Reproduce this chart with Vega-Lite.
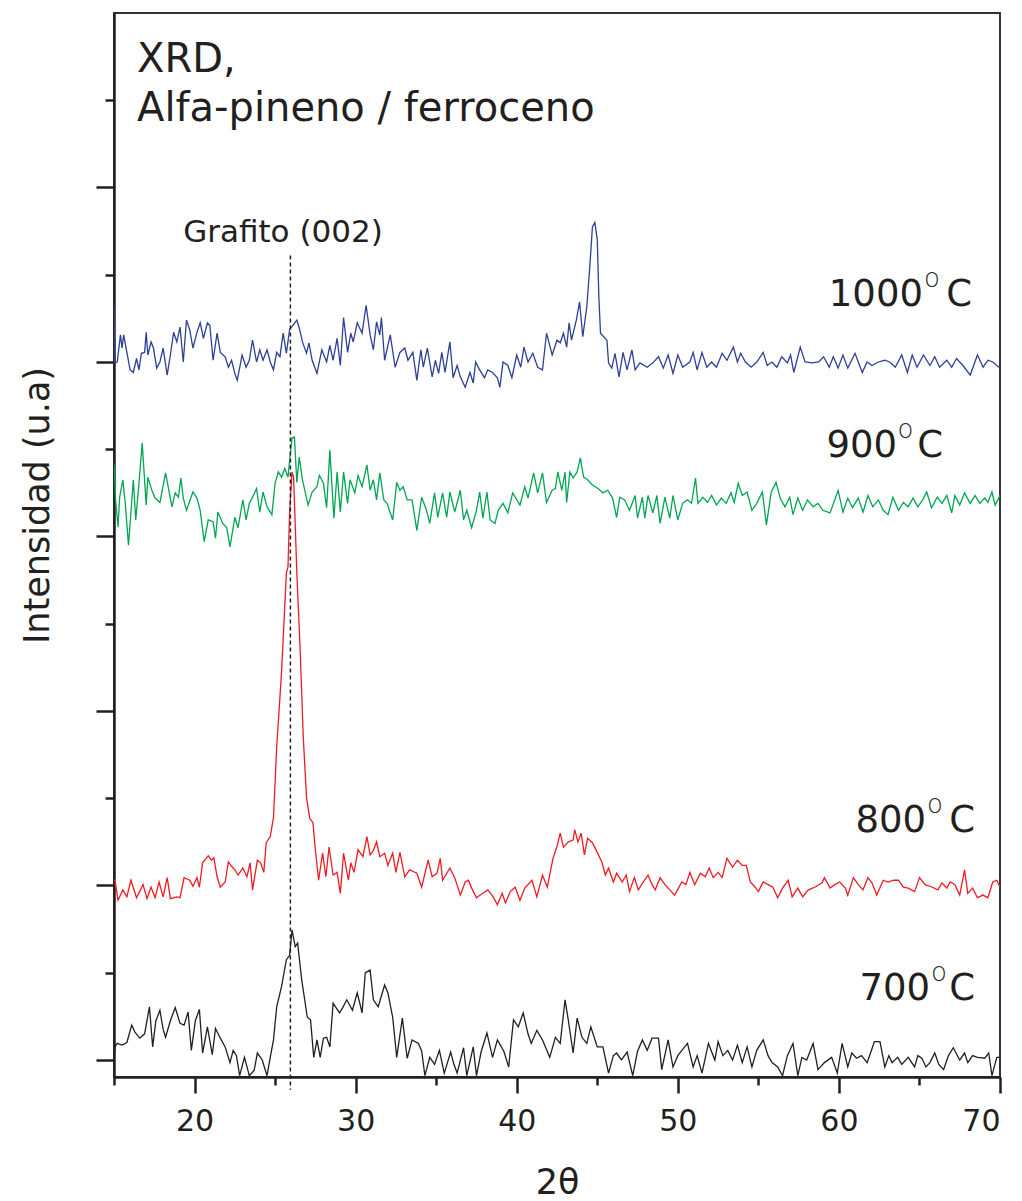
{
"$schema": "https://vega.github.io/schema/vega-lite/v6.json",
"width": 886, "height": 1064,
"autosize": "none",
"padding": {"left": 114, "top": 13, "right": 22, "bottom": 124},
"background": "white",
"config": {"view": {"stroke": "#333333", "strokeWidth": 2}, "font": "DejaVu Sans"},
"datasets": {
"xrd": [
{"s":"700","x":15.0,"y":2},{"s":"700","x":15.06,"y":15},{"s":"700","x":15.2,"y":19},{"s":"700","x":15.5,"y":17},{"s":"700","x":15.8,"y":20},{"s":"700","x":16.1,"y":40},{"s":"700","x":16.3,"y":32},{"s":"700","x":16.6,"y":25},{"s":"700","x":16.9,"y":30},{"s":"700","x":17.2,"y":61},{"s":"700","x":17.4,"y":15},{"s":"700","x":17.6,"y":45},{"s":"700","x":17.85,"y":57},{"s":"700","x":18.05,"y":35},{"s":"700","x":18.2,"y":26},{"s":"700","x":18.5,"y":45},{"s":"700","x":18.8,"y":60},{"s":"700","x":19.1,"y":42},{"s":"700","x":19.35,"y":40},{"s":"700","x":19.6,"y":55},{"s":"700","x":19.8,"y":11},{"s":"700","x":20.05,"y":45},{"s":"700","x":20.3,"y":58},{"s":"700","x":20.5,"y":8},{"s":"700","x":20.8,"y":38},{"s":"700","x":21.1,"y":6},{"s":"700","x":21.3,"y":36},{"s":"700","x":21.6,"y":25},{"s":"700","x":21.9,"y":15},{"s":"700","x":22.2,"y":-3},{"s":"700","x":22.4,"y":11},{"s":"700","x":22.6,"y":5},{"s":"700","x":22.8,"y":-18},{"s":"700","x":23.1,"y":3},{"s":"700","x":23.4,"y":-18},{"s":"700","x":23.7,"y":-12},{"s":"700","x":23.9,"y":8},{"s":"700","x":24.2,"y":0},{"s":"700","x":24.5,"y":-18},{"s":"700","x":24.7,"y":3},{"s":"700","x":24.9,"y":23},{"s":"700","x":25.1,"y":61},{"s":"700","x":25.4,"y":84},{"s":"700","x":25.7,"y":115},{"s":"700","x":25.9,"y":120},{"s":"700","x":26.05,"y":149},{"s":"700","x":26.25,"y":130},{"s":"700","x":26.4,"y":134},{"s":"700","x":26.65,"y":92},{"s":"700","x":27.0,"y":49},{"s":"700","x":27.2,"y":46},{"s":"700","x":27.4,"y":3},{"s":"700","x":27.6,"y":23},{"s":"700","x":27.8,"y":3},{"s":"700","x":28.0,"y":25},{"s":"700","x":28.2,"y":26},{"s":"700","x":28.4,"y":15},{"s":"700","x":28.6,"y":65},{"s":"700","x":29.0,"y":54},{"s":"700","x":29.2,"y":60},{"s":"700","x":29.45,"y":69},{"s":"700","x":29.8,"y":57},{"s":"700","x":30.1,"y":77},{"s":"700","x":30.4,"y":54},{"s":"700","x":30.6,"y":100},{"s":"700","x":30.9,"y":103},{"s":"700","x":31.1,"y":69},{"s":"700","x":31.4,"y":61},{"s":"700","x":31.8,"y":86},{"s":"700","x":32.0,"y":77},{"s":"700","x":32.3,"y":49},{"s":"700","x":32.55,"y":3},{"s":"700","x":32.9,"y":48},{"s":"700","x":33.2,"y":2},{"s":"700","x":33.5,"y":23},{"s":"700","x":33.9,"y":19},{"s":"700","x":34.1,"y":10},{"s":"700","x":34.3,"y":-18},{"s":"700","x":34.6,"y":3},{"s":"700","x":34.9,"y":-5},{"s":"700","x":35.2,"y":11},{"s":"700","x":35.5,"y":-15},{"s":"700","x":35.9,"y":9},{"s":"700","x":36.1,"y":-5},{"s":"700","x":36.3,"y":-15},{"s":"700","x":36.7,"y":14},{"s":"700","x":36.9,"y":-18},{"s":"700","x":37.3,"y":15},{"s":"700","x":37.5,"y":-18},{"s":"700","x":37.8,"y":10},{"s":"700","x":38.15,"y":31},{"s":"700","x":38.5,"y":3},{"s":"700","x":38.8,"y":23},{"s":"700","x":39.2,"y":10},{"s":"700","x":39.5,"y":-8},{"s":"700","x":39.8,"y":46},{"s":"700","x":40.1,"y":38},{"s":"700","x":40.4,"y":54},{"s":"700","x":40.7,"y":30},{"s":"700","x":40.9,"y":19},{"s":"700","x":41.25,"y":34},{"s":"700","x":41.6,"y":23},{"s":"700","x":42.05,"y":3},{"s":"700","x":42.4,"y":26},{"s":"700","x":42.7,"y":19},{"s":"700","x":43.0,"y":69},{"s":"700","x":43.2,"y":46},{"s":"700","x":43.5,"y":8},{"s":"700","x":43.75,"y":48},{"s":"700","x":44.05,"y":26},{"s":"700","x":44.35,"y":19},{"s":"700","x":44.6,"y":38},{"s":"700","x":45.0,"y":15},{"s":"700","x":45.35,"y":15},{"s":"700","x":45.7,"y":-15},{"s":"700","x":46.0,"y":5},{"s":"700","x":46.2,"y":8},{"s":"700","x":46.5,"y":0},{"s":"700","x":46.85,"y":9},{"s":"700","x":47.2,"y":-18},{"s":"700","x":47.5,"y":10},{"s":"700","x":47.8,"y":23},{"s":"700","x":48.1,"y":11},{"s":"700","x":48.4,"y":25},{"s":"700","x":48.8,"y":25},{"s":"700","x":49.0,"y":-11},{"s":"700","x":49.4,"y":23},{"s":"700","x":49.7,"y":-8},{"s":"700","x":50.0,"y":5},{"s":"700","x":50.25,"y":11},{"s":"700","x":50.6,"y":19},{"s":"700","x":50.95,"y":-8},{"s":"700","x":51.2,"y":5},{"s":"700","x":51.5,"y":-15},{"s":"700","x":51.9,"y":19},{"s":"700","x":52.3,"y":0},{"s":"700","x":52.5,"y":21},{"s":"700","x":52.8,"y":5},{"s":"700","x":53.1,"y":11},{"s":"700","x":53.4,"y":0},{"s":"700","x":53.7,"y":17},{"s":"700","x":54.0,"y":-3},{"s":"700","x":54.3,"y":15},{"s":"700","x":54.6,"y":-8},{"s":"700","x":54.9,"y":11},{"s":"700","x":55.3,"y":23},{"s":"700","x":55.6,"y":5},{"s":"700","x":55.85,"y":-3},{"s":"700","x":56.2,"y":-8},{"s":"700","x":56.5,"y":-18},{"s":"700","x":56.8,"y":5},{"s":"700","x":57.15,"y":19},{"s":"700","x":57.45,"y":-18},{"s":"700","x":57.7,"y":3},{"s":"700","x":58.0,"y":0},{"s":"700","x":58.4,"y":19},{"s":"700","x":58.7,"y":-11},{"s":"700","x":59.1,"y":-3},{"s":"700","x":59.55,"y":3},{"s":"700","x":59.9,"y":-15},{"s":"700","x":60.2,"y":19},{"s":"700","x":60.55,"y":-8},{"s":"700","x":60.8,"y":8},{"s":"700","x":61.1,"y":2},{"s":"700","x":61.4,"y":5},{"s":"700","x":61.75,"y":-3},{"s":"700","x":62.0,"y":10},{"s":"700","x":62.2,"y":21},{"s":"700","x":62.55,"y":21},{"s":"700","x":62.85,"y":-8},{"s":"700","x":63.1,"y":5},{"s":"700","x":63.3,"y":-3},{"s":"700","x":63.65,"y":3},{"s":"700","x":63.9,"y":-5},{"s":"700","x":64.3,"y":3},{"s":"700","x":64.7,"y":-8},{"s":"700","x":64.9,"y":5},{"s":"700","x":65.15,"y":2},{"s":"700","x":65.4,"y":-8},{"s":"700","x":65.65,"y":-3},{"s":"700","x":65.95,"y":8},{"s":"700","x":66.2,"y":-5},{"s":"700","x":66.5,"y":-11},{"s":"700","x":66.8,"y":5},{"s":"700","x":67.1,"y":14},{"s":"700","x":67.5,"y":0},{"s":"700","x":67.8,"y":8},{"s":"700","x":68.0,"y":-3},{"s":"700","x":68.3,"y":5},{"s":"700","x":68.6,"y":3},{"s":"700","x":69.05,"y":2},{"s":"700","x":69.3,"y":8},{"s":"700","x":69.5,"y":-18},{"s":"700","x":69.8,"y":3},{"s":"700","x":70.0,"y":3},
{"s":"800","x":15.0,"y":206},{"s":"800","x":15.06,"y":206},{"s":"800","x":15.25,"y":183},{"s":"800","x":15.55,"y":195},{"s":"800","x":15.8,"y":187},{"s":"800","x":16.05,"y":206},{"s":"800","x":16.4,"y":186},{"s":"800","x":16.8,"y":201},{"s":"800","x":17.05,"y":185},{"s":"800","x":17.3,"y":198},{"s":"800","x":17.55,"y":186},{"s":"800","x":17.8,"y":204},{"s":"800","x":18.05,"y":187},{"s":"800","x":18.3,"y":209},{"s":"800","x":18.5,"y":185},{"s":"800","x":18.9,"y":187},{"s":"800","x":19.1,"y":186},{"s":"800","x":19.35,"y":209},{"s":"800","x":19.7,"y":206},{"s":"800","x":19.9,"y":199},{"s":"800","x":20.15,"y":209},{"s":"800","x":20.3,"y":198},{"s":"800","x":20.5,"y":226},{"s":"800","x":20.85,"y":234},{"s":"800","x":21.05,"y":229},{"s":"800","x":21.2,"y":232},{"s":"800","x":21.4,"y":210},{"s":"800","x":21.6,"y":198},{"s":"800","x":21.9,"y":204},{"s":"800","x":22.1,"y":227},{"s":"800","x":22.3,"y":222},{"s":"800","x":22.5,"y":218},{"s":"800","x":22.7,"y":212},{"s":"800","x":23.0,"y":220},{"s":"800","x":23.25,"y":210},{"s":"800","x":23.45,"y":226},{"s":"800","x":23.6,"y":195},{"s":"800","x":23.9,"y":229},{"s":"800","x":24.1,"y":226},{"s":"800","x":24.3,"y":215},{"s":"800","x":24.45,"y":249},{"s":"800","x":24.7,"y":256},{"s":"800","x":24.9,"y":278},{"s":"800","x":25.1,"y":359},{"s":"800","x":25.4,"y":444},{"s":"800","x":25.7,"y":558},{"s":"800","x":25.8,"y":565},{"s":"800","x":25.9,"y":627},{"s":"800","x":26.05,"y":674},{"s":"800","x":26.15,"y":668},{"s":"800","x":26.35,"y":558},{"s":"800","x":26.55,"y":473},{"s":"800","x":26.75,"y":370},{"s":"800","x":26.95,"y":301},{"s":"800","x":27.15,"y":277},{"s":"800","x":27.35,"y":272},{"s":"800","x":27.5,"y":241},{"s":"800","x":27.7,"y":206},{"s":"800","x":27.95,"y":237},{"s":"800","x":28.15,"y":210},{"s":"800","x":28.35,"y":244},{"s":"800","x":28.6,"y":212},{"s":"800","x":28.85,"y":215},{"s":"800","x":29.05,"y":191},{"s":"800","x":29.25,"y":237},{"s":"800","x":29.55,"y":206},{"s":"800","x":29.7,"y":226},{"s":"800","x":29.9,"y":215},{"s":"800","x":30.15,"y":241},{"s":"800","x":30.45,"y":233},{"s":"800","x":30.7,"y":256},{"s":"800","x":30.9,"y":235},{"s":"800","x":31.1,"y":240},{"s":"800","x":31.3,"y":250},{"s":"800","x":31.5,"y":233},{"s":"800","x":31.8,"y":237},{"s":"800","x":32.0,"y":223},{"s":"800","x":32.3,"y":237},{"s":"800","x":32.5,"y":215},{"s":"800","x":32.75,"y":238},{"s":"800","x":33.05,"y":210},{"s":"800","x":33.35,"y":218},{"s":"800","x":33.8,"y":214},{"s":"800","x":34.1,"y":198},{"s":"800","x":34.5,"y":229},{"s":"800","x":34.75,"y":210},{"s":"800","x":35.05,"y":214},{"s":"800","x":35.25,"y":231},{"s":"800","x":35.4,"y":206},{"s":"800","x":35.85,"y":220},{"s":"800","x":36.15,"y":209},{"s":"800","x":36.5,"y":189},{"s":"800","x":36.8,"y":204},{"s":"800","x":37.0,"y":206},{"s":"800","x":37.2,"y":197},{"s":"800","x":37.5,"y":186},{"s":"800","x":37.8,"y":190},{"s":"800","x":38.2,"y":195},{"s":"800","x":38.5,"y":188},{"s":"800","x":38.8,"y":178},{"s":"800","x":39.1,"y":191},{"s":"800","x":39.3,"y":180},{"s":"800","x":39.6,"y":193},{"s":"800","x":39.9,"y":198},{"s":"800","x":40.2,"y":183},{"s":"800","x":40.5,"y":197},{"s":"800","x":40.95,"y":206},{"s":"800","x":41.25,"y":187},{"s":"800","x":41.6,"y":212},{"s":"800","x":41.9,"y":198},{"s":"800","x":42.25,"y":231},{"s":"800","x":42.5,"y":245},{"s":"800","x":42.7,"y":260},{"s":"800","x":42.9,"y":244},{"s":"800","x":43.2,"y":250},{"s":"800","x":43.5,"y":252},{"s":"800","x":43.6,"y":264},{"s":"800","x":43.8,"y":250},{"s":"800","x":44.0,"y":260},{"s":"800","x":44.2,"y":235},{"s":"800","x":44.4,"y":254},{"s":"800","x":44.7,"y":249},{"s":"800","x":45.0,"y":238},{"s":"800","x":45.3,"y":226},{"s":"800","x":45.5,"y":212},{"s":"800","x":45.7,"y":220},{"s":"800","x":46.0,"y":204},{"s":"800","x":46.2,"y":214},{"s":"800","x":46.55,"y":204},{"s":"800","x":46.8,"y":212},{"s":"800","x":47.0,"y":193},{"s":"800","x":47.3,"y":209},{"s":"800","x":47.55,"y":195},{"s":"800","x":47.85,"y":204},{"s":"800","x":48.15,"y":212},{"s":"800","x":48.4,"y":201},{"s":"800","x":48.6,"y":195},{"s":"800","x":48.9,"y":209},{"s":"800","x":49.2,"y":201},{"s":"800","x":49.5,"y":195},{"s":"800","x":49.8,"y":189},{"s":"800","x":50.25,"y":204},{"s":"800","x":50.5,"y":201},{"s":"800","x":50.75,"y":215},{"s":"800","x":51.05,"y":201},{"s":"800","x":51.4,"y":214},{"s":"800","x":51.7,"y":210},{"s":"800","x":51.95,"y":220},{"s":"800","x":52.2,"y":209},{"s":"800","x":52.5,"y":215},{"s":"800","x":52.75,"y":209},{"s":"800","x":53.05,"y":231},{"s":"800","x":53.4,"y":221},{"s":"800","x":53.7,"y":229},{"s":"800","x":54.0,"y":223},{"s":"800","x":54.25,"y":223},{"s":"800","x":54.5,"y":204},{"s":"800","x":54.8,"y":198},{"s":"800","x":55.0,"y":193},{"s":"800","x":55.3,"y":204},{"s":"800","x":55.6,"y":201},{"s":"800","x":55.9,"y":198},{"s":"800","x":56.2,"y":186},{"s":"800","x":56.5,"y":197},{"s":"800","x":56.85,"y":206},{"s":"800","x":57.1,"y":187},{"s":"800","x":57.45,"y":197},{"s":"800","x":57.75,"y":187},{"s":"800","x":58.1,"y":195},{"s":"800","x":58.5,"y":198},{"s":"800","x":58.95,"y":203},{"s":"800","x":59.1,"y":209},{"s":"800","x":59.45,"y":197},{"s":"800","x":59.75,"y":201},{"s":"800","x":60.05,"y":204},{"s":"800","x":60.4,"y":197},{"s":"800","x":60.55,"y":189},{"s":"800","x":60.9,"y":209},{"s":"800","x":61.2,"y":201},{"s":"800","x":61.5,"y":195},{"s":"800","x":61.8,"y":209},{"s":"800","x":62.05,"y":203},{"s":"800","x":62.35,"y":189},{"s":"800","x":62.75,"y":206},{"s":"800","x":63.05,"y":204},{"s":"800","x":63.4,"y":206},{"s":"800","x":63.7,"y":206},{"s":"800","x":64.0,"y":198},{"s":"800","x":64.3,"y":197},{"s":"800","x":64.7,"y":193},{"s":"800","x":65.0,"y":209},{"s":"800","x":65.35,"y":201},{"s":"800","x":65.8,"y":198},{"s":"800","x":66.15,"y":195},{"s":"800","x":66.4,"y":203},{"s":"800","x":66.7,"y":197},{"s":"800","x":66.9,"y":204},{"s":"800","x":67.2,"y":201},{"s":"800","x":67.5,"y":189},{"s":"800","x":67.8,"y":218},{"s":"800","x":68.0,"y":191},{"s":"800","x":68.3,"y":197},{"s":"800","x":68.6,"y":186},{"s":"800","x":68.95,"y":189},{"s":"800","x":69.25,"y":186},{"s":"800","x":69.55,"y":204},{"s":"800","x":69.8,"y":206},{"s":"800","x":70.0,"y":198},
{"s":"900","x":15.0,"y":684},{"s":"900","x":15.1,"y":642},{"s":"900","x":15.25,"y":611},{"s":"900","x":15.35,"y":645},{"s":"900","x":15.55,"y":665},{"s":"900","x":15.7,"y":638},{"s":"900","x":15.9,"y":590},{"s":"900","x":16.2,"y":665},{"s":"900","x":16.35,"y":619},{"s":"900","x":16.55,"y":661},{"s":"900","x":16.75,"y":707},{"s":"900","x":17.0,"y":636},{"s":"900","x":17.1,"y":668},{"s":"900","x":17.35,"y":653},{"s":"900","x":17.55,"y":644},{"s":"900","x":17.85,"y":639},{"s":"900","x":18.2,"y":673},{"s":"900","x":18.6,"y":634},{"s":"900","x":18.8,"y":650},{"s":"900","x":19.0,"y":645},{"s":"900","x":19.15,"y":667},{"s":"900","x":19.3,"y":644},{"s":"900","x":19.5,"y":630},{"s":"900","x":19.9,"y":651},{"s":"900","x":20.15,"y":644},{"s":"900","x":20.35,"y":630},{"s":"900","x":20.6,"y":594},{"s":"900","x":20.85,"y":619},{"s":"900","x":21.15,"y":617},{"s":"900","x":21.3,"y":598},{"s":"900","x":21.45,"y":628},{"s":"900","x":21.75,"y":615},{"s":"900","x":22.0,"y":610},{"s":"900","x":22.2,"y":588},{"s":"900","x":22.5,"y":622},{"s":"900","x":22.7,"y":610},{"s":"900","x":23.0,"y":642},{"s":"900","x":23.2,"y":619},{"s":"900","x":23.4,"y":638},{"s":"900","x":23.6,"y":645},{"s":"900","x":23.85,"y":655},{"s":"900","x":24.05,"y":628},{"s":"900","x":24.25,"y":651},{"s":"900","x":24.5,"y":634},{"s":"900","x":24.8,"y":625},{"s":"900","x":25.0,"y":661},{"s":"900","x":25.2,"y":674},{"s":"900","x":25.4,"y":668},{"s":"900","x":25.6,"y":678},{"s":"900","x":25.8,"y":668},{"s":"900","x":26.05,"y":713},{"s":"900","x":26.2,"y":714},{"s":"900","x":26.35,"y":662},{"s":"900","x":26.5,"y":691},{"s":"900","x":26.7,"y":665},{"s":"900","x":27.05,"y":636},{"s":"900","x":27.3,"y":651},{"s":"900","x":27.6,"y":657},{"s":"900","x":27.75,"y":670},{"s":"900","x":28.0,"y":661},{"s":"900","x":28.2,"y":633},{"s":"900","x":28.4,"y":699},{"s":"900","x":28.65,"y":621},{"s":"900","x":28.85,"y":674},{"s":"900","x":29.05,"y":628},{"s":"900","x":29.25,"y":674},{"s":"900","x":29.5,"y":638},{"s":"900","x":29.65,"y":665},{"s":"900","x":29.95,"y":650},{"s":"900","x":30.15,"y":670},{"s":"900","x":30.4,"y":657},{"s":"900","x":30.7,"y":682},{"s":"900","x":30.9,"y":653},{"s":"900","x":31.1,"y":665},{"s":"900","x":31.3,"y":642},{"s":"900","x":31.5,"y":673},{"s":"900","x":31.75,"y":642},{"s":"900","x":31.95,"y":638},{"s":"900","x":32.3,"y":619},{"s":"900","x":32.55,"y":662},{"s":"900","x":32.75,"y":653},{"s":"900","x":32.95,"y":657},{"s":"900","x":33.2,"y":642},{"s":"900","x":33.5,"y":642},{"s":"900","x":33.8,"y":607},{"s":"900","x":34.1,"y":645},{"s":"900","x":34.4,"y":630},{"s":"900","x":34.6,"y":615},{"s":"900","x":34.9,"y":650},{"s":"900","x":35.1,"y":622},{"s":"900","x":35.4,"y":650},{"s":"900","x":35.65,"y":622},{"s":"900","x":35.85,"y":651},{"s":"900","x":36.15,"y":628},{"s":"900","x":36.5,"y":653},{"s":"900","x":36.7,"y":619},{"s":"900","x":36.9,"y":630},{"s":"900","x":37.2,"y":610},{"s":"900","x":37.5,"y":630},{"s":"900","x":37.7,"y":651},{"s":"900","x":37.9,"y":621},{"s":"900","x":38.15,"y":651},{"s":"900","x":38.35,"y":619},{"s":"900","x":38.65,"y":615},{"s":"900","x":38.85,"y":630},{"s":"900","x":39.15,"y":638},{"s":"900","x":39.45,"y":627},{"s":"900","x":39.75,"y":650},{"s":"900","x":40.2,"y":636},{"s":"900","x":40.5,"y":657},{"s":"900","x":40.7,"y":644},{"s":"900","x":41.05,"y":673},{"s":"900","x":41.3,"y":650},{"s":"900","x":41.6,"y":673},{"s":"900","x":41.85,"y":639},{"s":"900","x":42.2,"y":653},{"s":"900","x":42.4,"y":655},{"s":"900","x":42.55,"y":674},{"s":"900","x":42.8,"y":653},{"s":"900","x":43.0,"y":674},{"s":"900","x":43.1,"y":639},{"s":"900","x":43.3,"y":674},{"s":"900","x":43.5,"y":667},{"s":"900","x":43.75,"y":674},{"s":"900","x":43.95,"y":690},{"s":"900","x":44.15,"y":668},{"s":"900","x":44.4,"y":665},{"s":"900","x":44.7,"y":659},{"s":"900","x":45.05,"y":655},{"s":"900","x":45.35,"y":650},{"s":"900","x":45.65,"y":653},{"s":"900","x":45.95,"y":644},{"s":"900","x":46.2,"y":622},{"s":"900","x":46.4,"y":645},{"s":"900","x":46.7,"y":642},{"s":"900","x":47.0,"y":630},{"s":"900","x":47.35,"y":647},{"s":"900","x":47.5,"y":621},{"s":"900","x":47.8,"y":645},{"s":"900","x":47.95,"y":621},{"s":"900","x":48.15,"y":647},{"s":"900","x":48.45,"y":627},{"s":"900","x":48.7,"y":647},{"s":"900","x":48.9,"y":615},{"s":"900","x":49.2,"y":645},{"s":"900","x":49.5,"y":621},{"s":"900","x":49.7,"y":647},{"s":"900","x":50.0,"y":619},{"s":"900","x":50.3,"y":638},{"s":"900","x":50.6,"y":642},{"s":"900","x":50.85,"y":638},{"s":"900","x":51.1,"y":667},{"s":"900","x":51.25,"y":638},{"s":"900","x":51.55,"y":645},{"s":"900","x":51.85,"y":639},{"s":"900","x":52.1,"y":647},{"s":"900","x":52.4,"y":636},{"s":"900","x":52.7,"y":644},{"s":"900","x":53.0,"y":638},{"s":"900","x":53.3,"y":650},{"s":"900","x":53.5,"y":639},{"s":"900","x":53.75,"y":661},{"s":"900","x":54.0,"y":647},{"s":"900","x":54.3,"y":651},{"s":"900","x":54.6,"y":630},{"s":"900","x":54.9,"y":638},{"s":"900","x":55.25,"y":651},{"s":"900","x":55.5,"y":613},{"s":"900","x":55.8,"y":651},{"s":"900","x":56.1,"y":662},{"s":"900","x":56.35,"y":644},{"s":"900","x":56.65,"y":634},{"s":"900","x":56.95,"y":645},{"s":"900","x":57.15,"y":625},{"s":"900","x":57.45,"y":644},{"s":"900","x":57.75,"y":630},{"s":"900","x":58.05,"y":642},{"s":"900","x":58.4,"y":634},{"s":"900","x":58.7,"y":638},{"s":"900","x":59.0,"y":630},{"s":"900","x":59.45,"y":627},{"s":"900","x":59.95,"y":653},{"s":"900","x":60.25,"y":628},{"s":"900","x":60.55,"y":644},{"s":"900","x":60.85,"y":633},{"s":"900","x":61.2,"y":644},{"s":"900","x":61.5,"y":628},{"s":"900","x":61.8,"y":647},{"s":"900","x":62.1,"y":634},{"s":"900","x":62.45,"y":642},{"s":"900","x":62.75,"y":630},{"s":"900","x":63.05,"y":625},{"s":"900","x":63.35,"y":645},{"s":"900","x":63.7,"y":630},{"s":"900","x":64.0,"y":639},{"s":"900","x":64.3,"y":634},{"s":"900","x":64.6,"y":644},{"s":"900","x":64.9,"y":634},{"s":"900","x":65.2,"y":642},{"s":"900","x":65.45,"y":651},{"s":"900","x":65.75,"y":633},{"s":"900","x":66.1,"y":645},{"s":"900","x":66.4,"y":638},{"s":"900","x":66.7,"y":647},{"s":"900","x":67.0,"y":627},{"s":"900","x":67.2,"y":647},{"s":"900","x":67.5,"y":636},{"s":"900","x":67.8,"y":650},{"s":"900","x":68.15,"y":638},{"s":"900","x":68.45,"y":647},{"s":"900","x":68.75,"y":638},{"s":"900","x":69.05,"y":644},{"s":"900","x":69.25,"y":639},{"s":"900","x":69.5,"y":651},{"s":"900","x":69.7,"y":636},{"s":"900","x":70.0,"y":647},
{"s":"1000","x":15.0,"y":865},{"s":"1000","x":15.05,"y":799},{"s":"1000","x":15.2,"y":800},{"s":"1000","x":15.4,"y":831},{"s":"1000","x":15.5,"y":816},{"s":"1000","x":15.6,"y":831},{"s":"1000","x":15.8,"y":811},{"s":"1000","x":16.0,"y":791},{"s":"1000","x":16.2,"y":788},{"s":"1000","x":16.4,"y":804},{"s":"1000","x":16.55,"y":791},{"s":"1000","x":16.7,"y":810},{"s":"1000","x":16.9,"y":811},{"s":"1000","x":17.0,"y":834},{"s":"1000","x":17.1,"y":808},{"s":"1000","x":17.3,"y":823},{"s":"1000","x":17.45,"y":816},{"s":"1000","x":17.65,"y":793},{"s":"1000","x":17.85,"y":800},{"s":"1000","x":18.05,"y":816},{"s":"1000","x":18.3,"y":785},{"s":"1000","x":18.5,"y":808},{"s":"1000","x":18.7,"y":834},{"s":"1000","x":18.9,"y":823},{"s":"1000","x":19.1,"y":840},{"s":"1000","x":19.3,"y":800},{"s":"1000","x":19.5,"y":848},{"s":"1000","x":19.7,"y":837},{"s":"1000","x":19.9,"y":816},{"s":"1000","x":20.15,"y":834},{"s":"1000","x":20.35,"y":845},{"s":"1000","x":20.55,"y":827},{"s":"1000","x":20.8,"y":845},{"s":"1000","x":20.95,"y":842},{"s":"1000","x":21.15,"y":802},{"s":"1000","x":21.4,"y":833},{"s":"1000","x":21.6,"y":811},{"s":"1000","x":21.9,"y":806},{"s":"1000","x":22.1,"y":794},{"s":"1000","x":22.3,"y":802},{"s":"1000","x":22.5,"y":787},{"s":"1000","x":22.65,"y":779},{"s":"1000","x":22.95,"y":808},{"s":"1000","x":23.2,"y":794},{"s":"1000","x":23.4,"y":802},{"s":"1000","x":23.6,"y":825},{"s":"1000","x":23.85,"y":800},{"s":"1000","x":24.05,"y":814},{"s":"1000","x":24.25,"y":802},{"s":"1000","x":24.5,"y":814},{"s":"1000","x":24.7,"y":800},{"s":"1000","x":24.9,"y":791},{"s":"1000","x":25.1,"y":811},{"s":"1000","x":25.3,"y":806},{"s":"1000","x":25.5,"y":833},{"s":"1000","x":25.7,"y":810},{"s":"1000","x":25.9,"y":837},{"s":"1000","x":26.1,"y":842},{"s":"1000","x":26.35,"y":848},{"s":"1000","x":26.5,"y":839},{"s":"1000","x":26.7,"y":823},{"s":"1000","x":26.95,"y":810},{"s":"1000","x":27.1,"y":822},{"s":"1000","x":27.3,"y":802},{"s":"1000","x":27.6,"y":787},{"s":"1000","x":27.9,"y":814},{"s":"1000","x":28.2,"y":800},{"s":"1000","x":28.4,"y":819},{"s":"1000","x":28.6,"y":802},{"s":"1000","x":28.85,"y":827},{"s":"1000","x":29.05,"y":796},{"s":"1000","x":29.25,"y":851},{"s":"1000","x":29.5,"y":811},{"s":"1000","x":29.7,"y":833},{"s":"1000","x":29.85,"y":823},{"s":"1000","x":30.1,"y":845},{"s":"1000","x":30.4,"y":833},{"s":"1000","x":30.65,"y":865},{"s":"1000","x":30.9,"y":831},{"s":"1000","x":31.1,"y":814},{"s":"1000","x":31.3,"y":846},{"s":"1000","x":31.5,"y":831},{"s":"1000","x":31.6,"y":851},{"s":"1000","x":31.8,"y":802},{"s":"1000","x":32.15,"y":831},{"s":"1000","x":32.45,"y":794},{"s":"1000","x":32.75,"y":811},{"s":"1000","x":33.05,"y":816},{"s":"1000","x":33.25,"y":802},{"s":"1000","x":33.55,"y":811},{"s":"1000","x":33.8,"y":779},{"s":"1000","x":34.05,"y":814},{"s":"1000","x":34.2,"y":794},{"s":"1000","x":34.45,"y":816},{"s":"1000","x":34.75,"y":783},{"s":"1000","x":34.95,"y":802},{"s":"1000","x":35.15,"y":787},{"s":"1000","x":35.35,"y":811},{"s":"1000","x":35.55,"y":788},{"s":"1000","x":35.85,"y":823},{"s":"1000","x":36.05,"y":782},{"s":"1000","x":36.3,"y":796},{"s":"1000","x":36.5,"y":783},{"s":"1000","x":36.8,"y":771},{"s":"1000","x":37.1,"y":788},{"s":"1000","x":37.3,"y":776},{"s":"1000","x":37.45,"y":800},{"s":"1000","x":37.7,"y":791},{"s":"1000","x":38.0,"y":782},{"s":"1000","x":38.2,"y":791},{"s":"1000","x":38.5,"y":788},{"s":"1000","x":38.8,"y":782},{"s":"1000","x":38.95,"y":771},{"s":"1000","x":39.15,"y":800},{"s":"1000","x":39.45,"y":796},{"s":"1000","x":39.7,"y":782},{"s":"1000","x":40.0,"y":808},{"s":"1000","x":40.25,"y":794},{"s":"1000","x":40.45,"y":817},{"s":"1000","x":40.7,"y":800},{"s":"1000","x":41.0,"y":810},{"s":"1000","x":41.3,"y":794},{"s":"1000","x":41.6,"y":791},{"s":"1000","x":41.85,"y":833},{"s":"1000","x":42.2,"y":808},{"s":"1000","x":42.5,"y":825},{"s":"1000","x":42.7,"y":822},{"s":"1000","x":42.9,"y":833},{"s":"1000","x":43.1,"y":817},{"s":"1000","x":43.25,"y":845},{"s":"1000","x":43.4,"y":825},{"s":"1000","x":43.7,"y":848},{"s":"1000","x":43.9,"y":869},{"s":"1000","x":44.1,"y":829},{"s":"1000","x":44.35,"y":863},{"s":"1000","x":44.55,"y":913},{"s":"1000","x":44.7,"y":955},{"s":"1000","x":44.85,"y":960},{"s":"1000","x":45.0,"y":940},{"s":"1000","x":45.1,"y":874},{"s":"1000","x":45.2,"y":833},{"s":"1000","x":45.4,"y":829},{"s":"1000","x":45.6,"y":825},{"s":"1000","x":45.7,"y":799},{"s":"1000","x":45.9,"y":793},{"s":"1000","x":46.1,"y":810},{"s":"1000","x":46.35,"y":783},{"s":"1000","x":46.6,"y":811},{"s":"1000","x":46.85,"y":791},{"s":"1000","x":47.15,"y":814},{"s":"1000","x":47.35,"y":791},{"s":"1000","x":47.65,"y":799},{"s":"1000","x":48.1,"y":794},{"s":"1000","x":48.45,"y":799},{"s":"1000","x":48.8,"y":806},{"s":"1000","x":49.1,"y":793},{"s":"1000","x":49.4,"y":808},{"s":"1000","x":49.7,"y":787},{"s":"1000","x":50.0,"y":808},{"s":"1000","x":50.3,"y":794},{"s":"1000","x":50.75,"y":800},{"s":"1000","x":50.95,"y":811},{"s":"1000","x":51.2,"y":791},{"s":"1000","x":51.5,"y":811},{"s":"1000","x":51.8,"y":794},{"s":"1000","x":52.1,"y":800},{"s":"1000","x":52.4,"y":794},{"s":"1000","x":52.75,"y":810},{"s":"1000","x":53.05,"y":802},{"s":"1000","x":53.45,"y":817},{"s":"1000","x":53.7,"y":800},{"s":"1000","x":53.9,"y":810},{"s":"1000","x":54.2,"y":800},{"s":"1000","x":54.55,"y":794},{"s":"1000","x":54.9,"y":800},{"s":"1000","x":55.3,"y":811},{"s":"1000","x":55.55,"y":796},{"s":"1000","x":55.85,"y":800},{"s":"1000","x":56.15,"y":794},{"s":"1000","x":56.45,"y":806},{"s":"1000","x":56.8,"y":799},{"s":"1000","x":57.0,"y":808},{"s":"1000","x":57.2,"y":788},{"s":"1000","x":57.6,"y":817},{"s":"1000","x":57.9,"y":800},{"s":"1000","x":58.35,"y":799},{"s":"1000","x":58.75,"y":800},{"s":"1000","x":59.05,"y":806},{"s":"1000","x":59.4,"y":794},{"s":"1000","x":59.65,"y":806},{"s":"1000","x":59.95,"y":793},{"s":"1000","x":60.25,"y":808},{"s":"1000","x":60.55,"y":793},{"s":"1000","x":61.0,"y":810},{"s":"1000","x":61.45,"y":788},{"s":"1000","x":61.75,"y":800},{"s":"1000","x":62.05,"y":796},{"s":"1000","x":62.45,"y":800},{"s":"1000","x":62.85,"y":802},{"s":"1000","x":63.15,"y":800},{"s":"1000","x":63.5,"y":794},{"s":"1000","x":63.9,"y":808},{"s":"1000","x":64.25,"y":788},{"s":"1000","x":64.55,"y":808},{"s":"1000","x":64.85,"y":794},{"s":"1000","x":65.25,"y":808},{"s":"1000","x":65.65,"y":796},{"s":"1000","x":65.95,"y":806},{"s":"1000","x":66.25,"y":794},{"s":"1000","x":66.7,"y":802},{"s":"1000","x":67.0,"y":794},{"s":"1000","x":67.3,"y":804},{"s":"1000","x":67.7,"y":796},{"s":"1000","x":68.15,"y":785},{"s":"1000","x":68.6,"y":808},{"s":"1000","x":68.95,"y":794},{"s":"1000","x":69.25,"y":802},{"s":"1000","x":69.55,"y":800},{"s":"1000","x":70.0,"y":793}
],
"marker": [{"x": 25.95, "y": 922, "y2": -34}],
"title": [{"x": 16.43, "y": 1132, "t": "XRD,"}, {"x": 16.43, "y": 1076, "t": "Alfa-pineno / ferroceno"}],
"temps": [
{"x": 65.22, "y": 864, "t": "1000"}, {"x": 68.26, "y": 864, "t": "C"},
{"x": 63.61, "y": 691, "t": "900"}, {"x": 66.46, "y": 691, "t": "C"},
{"x": 65.41, "y": 261, "t": "800"}, {"x": 68.45, "y": 261, "t": "C"},
{"x": 65.66, "y": 69, "t": "700"}, {"x": 68.45, "y": 69, "t": "C"}
],
"degs": [
{"x": 65.28, "y": 886, "t": "o"}, {"x": 63.64, "y": 713, "t": "o"}, {"x": 65.47, "y": 283, "t": "o"}, {"x": 65.72, "y": 91, "t": "o"}
],
"peak": [{"x": 25.49, "y": 937, "t": "Grafito (002)"}]
},
"resolve": {"axis": {"x": "independent", "y": "independent"}},
"layer": [
{
"data": {"name": "xrd"},
"mark": {"type": "line", "strokeWidth": 1.3, "clip": true},
"encoding": {
"x": {"field": "x", "type": "quantitative", "scale": {"domain": [15, 70], "nice": false, "zero": false},
"axis": {"orient": "bottom", "values": [20, 30, 40, 50, 60, 70], "tickSize": 16, "tickWidth": 2.5, "tickColor": "#231f20", "domainColor": "#231f20", "domainWidth": 2.5, "grid": false, "labelFont": "DejaVu Sans", "labelFontSize": 30, "labelColor": "#231f20", "labelPadding": 13, "title": "2θ", "titleFont": "DejaVu Sans", "titleFontSize": 35, "titleFontWeight": "normal", "titleColor": "#231f20", "titleBaseline": "alphabetic", "titleY": 116}},
"y": {"field": "y", "type": "quantitative", "scale": {"domain": [-19.5, 1200], "nice": false, "zero": false},
"axis": {"orient": "left", "values": [0, 200, 400, 600, 800, 1000], "tickSize": 18, "tickWidth": 2.5, "tickColor": "#231f20", "domainColor": "#231f20", "domainWidth": 2.5, "grid": false, "labels": false, "title": "Intensidad (u.a)", "titleFont": "DejaVu Sans", "titleFontSize": 35, "titleFontWeight": "normal", "titleColor": "#231f20", "titleAngle": -90, "titleAlign": "center", "titleBaseline": "alphabetic", "titleX": -66, "titleY": 492}},
"color": {"field": "s", "type": "nominal", "scale": {"domain": ["700", "800", "900", "1000"], "range": ["#231f20", "#ed1c24", "#00a651", "#2e3f96"]}, "legend": null}
}
},
{
"data": {"name": "marker"},
"mark": {"type": "rule", "strokeDash": [4, 3], "strokeWidth": 1.5, "color": "#231f20", "clip": false},
"encoding": {
"x": {"field": "x", "type": "quantitative", "scale": {"domain": [15, 70], "nice": false, "zero": false},
"axis": {"orient": "bottom", "values": [15, 25, 35, 45, 55, 65], "tickSize": 8, "tickWidth": 2.5, "tickColor": "#231f20", "domain": false, "grid": false, "labels": false, "title": null}},
"y": {"field": "y", "type": "quantitative", "scale": {"domain": [-19.5, 1200], "nice": false, "zero": false},
"axis": {"orient": "left", "values": [100, 300, 500, 700, 900, 1100], "tickSize": 9, "tickWidth": 2.5, "tickColor": "#231f20", "domain": false, "grid": false, "labels": false, "title": null}},
"y2": {"field": "y2"}
}
},
{
"data": {"name": "title"},
"mark": {"type": "text", "align": "left", "baseline": "alphabetic", "font": "DejaVu Sans", "fontSize": 40, "color": "#231f20"},
"encoding": {
"x": {"field": "x", "type": "quantitative", "scale": {"domain": [15, 70], "nice": false, "zero": false}, "axis": null},
"y": {"field": "y", "type": "quantitative", "scale": {"domain": [-19.5, 1200], "nice": false, "zero": false}, "axis": null},
"text": {"field": "t"}
}
},
{
"data": {"name": "temps"},
"mark": {"type": "text", "align": "right", "baseline": "alphabetic", "font": "DejaVu Sans", "fontSize": 37, "color": "#231f20"},
"encoding": {
"x": {"field": "x", "type": "quantitative", "scale": {"domain": [15, 70], "nice": false, "zero": false}, "axis": null},
"y": {"field": "y", "type": "quantitative", "scale": {"domain": [-19.5, 1200], "nice": false, "zero": false}, "axis": null},
"text": {"field": "t"}
}
},
{
"data": {"name": "degs"},
"mark": {"type": "text", "align": "left", "baseline": "alphabetic", "font": "DejaVu Sans", "fontSize": 26, "fontWeight": 300, "color": "#231f20"},
"encoding": {
"x": {"field": "x", "type": "quantitative", "scale": {"domain": [15, 70], "nice": false, "zero": false}, "axis": null},
"y": {"field": "y", "type": "quantitative", "scale": {"domain": [-19.5, 1200], "nice": false, "zero": false}, "axis": null},
"text": {"field": "t"}
}
},
{
"data": {"name": "peak"},
"mark": {"type": "text", "align": "center", "baseline": "alphabetic", "font": "DejaVu Sans", "fontSize": 31, "color": "#231f20"},
"encoding": {
"x": {"field": "x", "type": "quantitative", "scale": {"domain": [15, 70], "nice": false, "zero": false}, "axis": null},
"y": {"field": "y", "type": "quantitative", "scale": {"domain": [-19.5, 1200], "nice": false, "zero": false}, "axis": null},
"text": {"field": "t"}
}
}
]
}
